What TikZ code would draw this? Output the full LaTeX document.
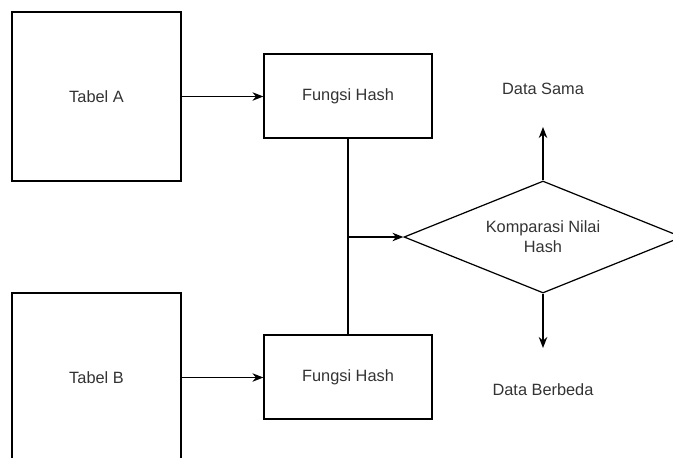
\documentclass[tikz,border=0pt]{standalone}
\usepackage{fontspec}
\setmainfont{Liberation Sans}
\usetikzlibrary{shapes.geometric,arrows.meta}
\tikzset{
	tabel/.style={draw,line width=0.7pt,minimum width=3.38cm,minimum height=3.38cm,inner sep=0pt},
	fungsi/.style={draw,line width=0.7pt,minimum width=3.36cm,minimum height=1.68cm,inner sep=0pt},
	keputusan/.style={draw,diamond,line width=0.7pt,minimum width=5.56cm,minimum height=2.24cm,inner sep=0pt,shape aspect=2.5,align=center},
	teks/.style={text=black!80,font=\fontsize{9.3}{11.5}\selectfont},
	alir/.style={line width=0.7pt,-{Stealth[length=2.2mm,width=1.7mm]}}
}
\begin{document}
\begin{tikzpicture}[every node/.append style={teks}]
	\clip (0,0) rectangle (13.46,-9.14);
	\node[tabel] (tabA) at (1.93,-1.93) {Tabel A};
	\node[tabel] (tabB) at (1.93,-7.55) {Tabel B};
	\node[fungsi] (hashA) at (6.96,-1.92) {Fungsi Hash};
	\node[fungsi] (hashB) at (6.96,-7.54) {Fungsi Hash};
	\node[keputusan] (cmp) at (10.86,-4.74) {Komparasi Nilai\\Hash};
	\node (sama) at (10.86,-1.78) {Data Sama};
	\node (beda) at (10.86,-7.8) {Data Berbeda};
	\coordinate (join) at (hashA.south |- cmp.west);
	\coordinate (upEnd) at (10.86,-2.54);
	\coordinate (downEnd) at (10.86,-6.96);
	\draw[alir] (tabA.east) -- (tabA.east -| hashA.west);
	\draw[alir] (tabB.east) -- (tabB.east -| hashB.west);
	\draw[line width=0.7pt] (hashA.south) -- (hashB.north);
	\draw[alir] (join) -- (cmp.west);
	\draw[alir] (cmp.north) -- (upEnd);
	\draw[alir] (cmp.south) -- (downEnd);
\end{tikzpicture}
\end{document}
